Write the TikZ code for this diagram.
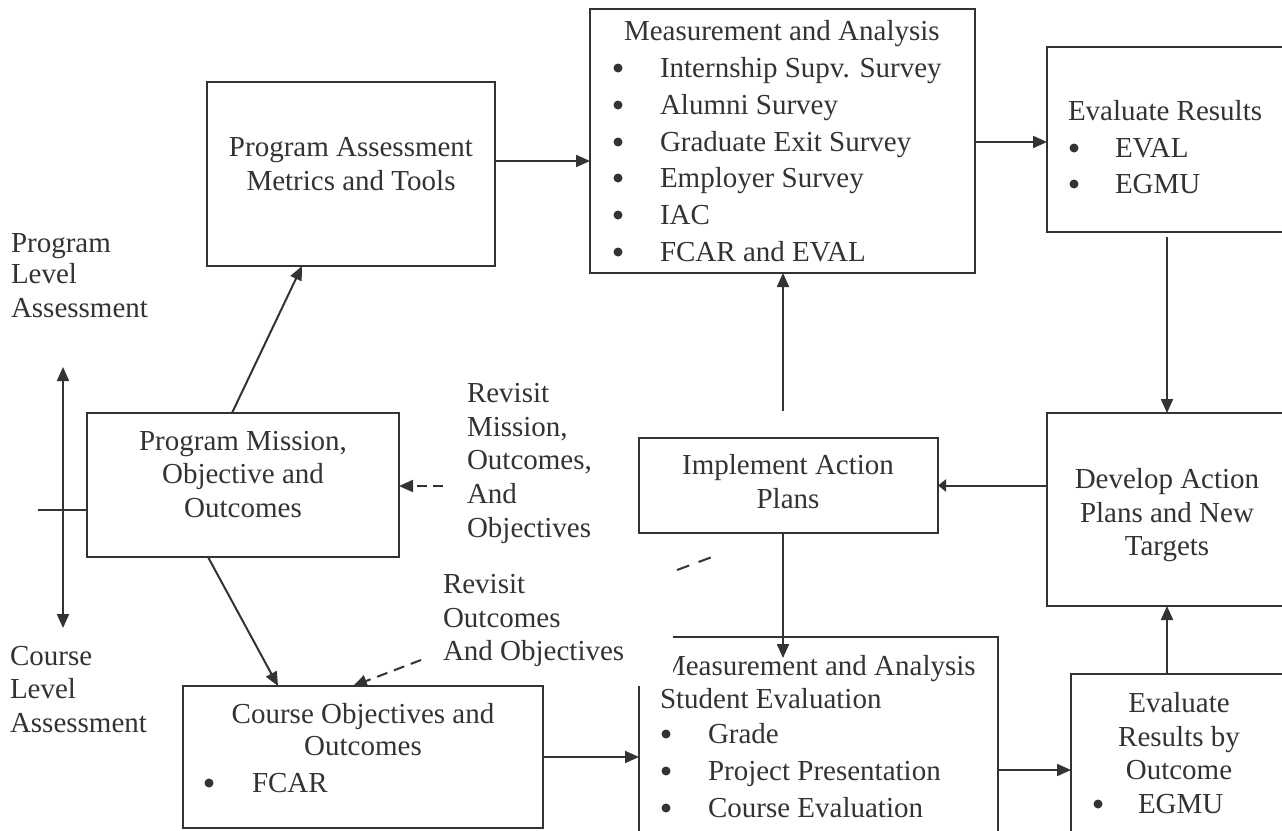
\documentclass[tikz,border=0pt]{standalone}
\usepackage{fontspec}
\setmainfont{Liberation Serif}
\usetikzlibrary{arrows.meta,calc}
\definecolor{ink}{RGB}{51,51,51}
\newcommand\mybox[5]{\node[box, anchor=north west, minimum width={#4-#2}, minimum height={#5-#3}] (#1) at (#2,#3) {};}
\newcommand\txtL[4]{\node[txt, anchor=base west] (#1) at (#2,#3) {#4};}
\newcommand\txtC[4]{\node[txt, anchor=base] (#1) at (#2,#3) {#4};}
\newcommand\txtB[3]{\node[bul] (#1) at (#2,{#3-9}) {};}
\begin{document}
\begin{tikzpicture}[x=1pt,y=-1pt,
  box/.style={draw=ink, line width=2.2pt, fill=white, inner sep=0pt, outer sep=0pt, rectangle},
  txt/.style={text=ink, font=\fontsize{29}{35}\selectfont, inner sep=0pt, outer sep=0pt},
  bul/.style={circle, fill=ink, inner sep=0pt, outer sep=0pt, minimum size=9pt},
  ln/.style={draw=ink, line width=2pt},
  arr/.style={ln, -{Triangle[length=14pt,width=12pt]}},
  dsh/.style={ln, dash pattern=on 11pt off 7pt},
  dsharr/.style={dsh, -{Triangle[length=14pt,width=12pt]}}]
\useasboundingbox (0,0) rectangle (1282,830);
\fill[white] (0,0) rectangle (1282,830);
% boxes
\mybox{pa}{207}{82}{495}{266}
\mybox{mat}{590}{9}{975}{273}
\mybox{evr}{1047}{47}{1290}{232}
\mybox{dev}{1047}{413}{1290}{606}
\mybox{imp}{639}{438}{938}{533}
\mybox{mis}{87}{413}{399}{557}
\mybox{crs}{183}{686}{543}{828}
\mybox{mab}{639}{637}{998}{840}
\mybox{evo}{1071}{674}{1290}{840}
% left labels
\txtL{pl1}{11}{252}{Program}
\txtL{pl2}{11}{283}{Level}
\txtL{pl3}{11}{317}{Assessment}
\txtL{cl1}{10}{665}{Course}
\txtL{cl2}{10}{698}{Level}
\txtL{cl3}{10}{732}{Assessment}
% program assessment
\txtC{pat1}{351}{156}{Program Assessment}
\txtC{pat2}{351}{190}{Metrics and Tools}
% top measurement
\txtL{mt0}{624}{40}{Measurement and Analysis}
\txtB{mb1}{618}{77}\txtL{mt1}{660}{77}{Internship Supv. Survey}
\txtB{mb2}{618}{114}\txtL{mt2}{660}{114}{Alumni Survey}
\txtB{mb3}{618}{151}\txtL{mt3}{660}{151}{Graduate Exit Survey}
\txtB{mb4}{618}{187}\txtL{mt4}{660}{187}{Employer Survey}
\txtB{mb5}{618}{224}\txtL{mt5}{660}{224}{IAC}
\txtB{mb6}{618}{261}\txtL{mt6}{660}{261}{FCAR and EVAL}
% evaluate results
\txtL{er0}{1068}{120}{Evaluate Results}
\txtB{eb1}{1074}{157}\txtL{er1}{1115}{157}{EVAL}
\txtB{eb2}{1074}{193}\txtL{er2}{1115}{193}{EGMU}
% develop
\txtC{dv1}{1167}{488}{Develop Action}
\txtC{dv2}{1167}{522}{Plans and New}
\txtC{dv3}{1167}{555}{Targets}
% implement
\txtC{im1}{788}{474}{Implement Action}
\txtC{im2}{788}{508}{Plans}
% mission
\txtC{ms1}{243}{450}{Program Mission,}
\txtC{ms2}{243}{483}{Objective and}
\txtC{ms3}{243}{517}{Outcomes}
% revisit labels
\txtL{ra1}{467}{402}{Revisit}
\txtL{ra2}{467}{436}{Mission,}
\txtL{ra3}{467}{469}{Outcomes,}
\txtL{ra4}{467}{503}{And}
\txtL{ra5}{467}{537}{Objectives}
\txtL{rb1}{443}{593}{Revisit}
\txtL{rb2}{443}{627}{Outcomes}
\txtL{rb3}{443}{660}{And Objectives}
% course
\txtC{co1}{363}{723}{Course Objectives and}
\txtC{co2}{363}{755}{Outcomes}
\txtB{cb1}{209}{792}\txtL{co3}{252}{792}{FCAR}
% bottom measurement
\txtL{mm0}{660}{675}{Measurement and Analysis}
\txtL{mm1}{660}{708}{Student Evaluation}
\txtB{nb1}{666}{743}\txtL{mm2}{708}{743}{Grade}
\txtB{nb2}{666}{780}\txtL{mm3}{708}{780}{Project Presentation}
\txtB{nb3}{666}{817}\txtL{mm4}{708}{817}{Course Evaluation}
% evaluate by outcome
\txtC{eo1}{1179}{712}{Evaluate}
\txtC{eo2}{1179}{746}{Results by}
\txtC{eo3}{1179}{779}{Outcome}
\txtB{ob1}{1098}{813}\txtL{eo4}{1138}{813}{EGMU}
% mask over the corner of the lower measurement box
\fill[white] (630,628) rectangle (673,686);
% coordinates
\coordinate (yA) at (0,161);
\coordinate (xA) at (1167,237);
\coordinate (cI) at (783,411);
\coordinate (cM) at (783,658);
\coordinate (yB) at (0,757);
\coordinate (yC) at (0,770);
\coordinate (va) at (63,367);
\coordinate (vb) at (63,628);
\coordinate (tk) at (38,510);
\coordinate (d1) at (443,486);
\coordinate (d2) at (421,660);
\coordinate (s1) at (677,570);
\coordinate (s2) at (712,557);
% connectors
\draw[arr] (pa.east |- yA) -- (mat.west |- yA);
\draw[arr] (mat.east |- 0,142) -- (evr.west |- 0,142);
\draw[arr] (xA) -- (xA |- dev.north);
\draw[ln, -{Triangle[length=8pt,width=12pt]}] (dev.west |- imp.east) -- (imp.east);
\draw[arr] (cI) -- (cI |- mat.south);
\draw[arr] (cI |- imp.south) -- (cM);
\draw[arr] (crs.east |- yB) -- (mab.west |- yB);
\draw[arr] (mab.east |- yC) -- (evo.west |- yC);
\draw[arr] (xA |- evo.north) -- (xA |- dev.south);
\draw[arr] ($(mis.north west)+(145,0)$) -- ($(pa.south west)+(95,0)$);
\draw[arr] ($(mis.south west)+(121,0)$) -- ($(crs.north west)+(95,0)$);
\draw[ln, {Triangle[length=14pt,width=12pt]}-{Triangle[length=14pt,width=12pt]}] (va) -- (vb);
\draw[ln] (tk) -- (tk -| mis.west);
\draw[dsharr, dash pattern=on 10pt off 6pt] (d1) -- (d1 -| mis.east);
\draw[dsharr] (d2) -- ($(crs.north west)+(170,0)$);
\draw[dsh, dash pattern=on 13pt off 10pt] (s1) -- (s2);
\end{tikzpicture}
\end{document}
